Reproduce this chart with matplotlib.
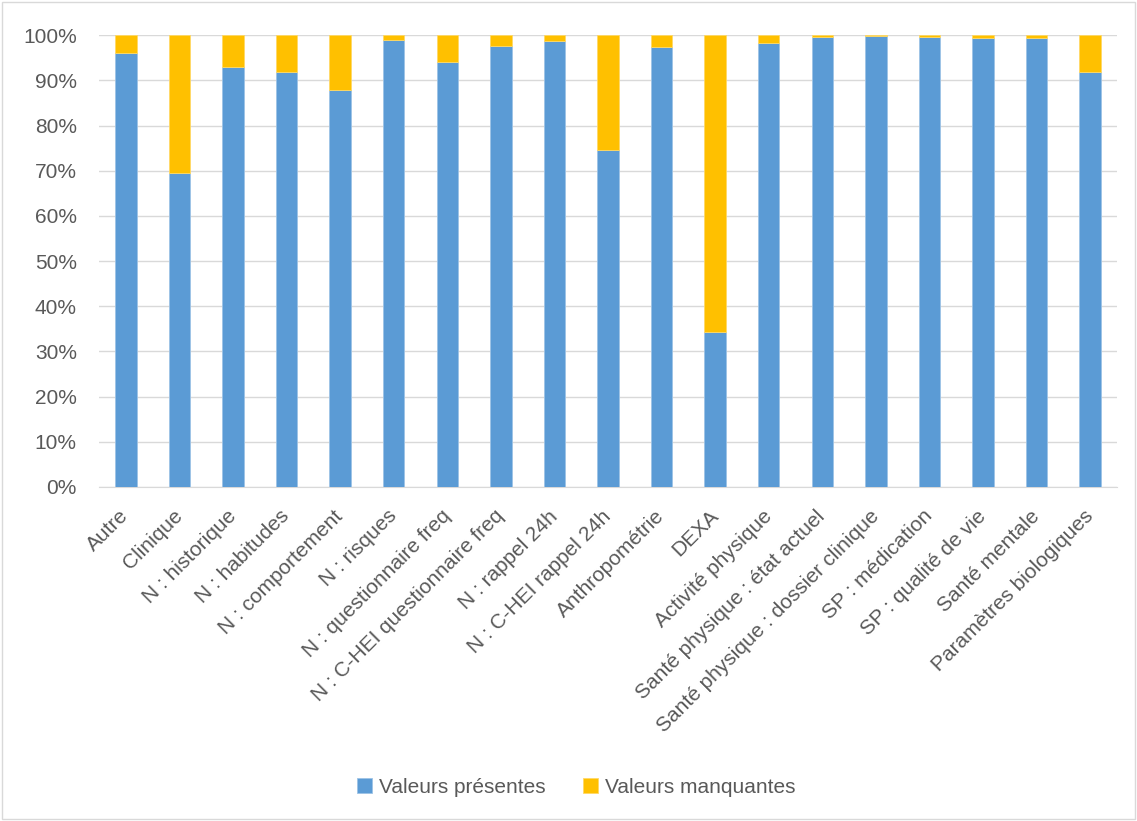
import matplotlib
matplotlib.use('Agg')
import matplotlib.pyplot as plt
from matplotlib.patches import Rectangle
from matplotlib.ticker import PercentFormatter

plt.rcParams['font.family'] = ['Liberation Sans', 'DejaVu Sans']

categories = ['Autre', 'Clinique', 'N : historique', 'N : habitudes', 'N : comportement',
              'N : risques', 'N : questionnaire freq', 'N : C-HEI questionnaire freq',
              'N : rappel 24h', 'N : C-HEI rappel 24h', 'Anthropométrie', 'DEXA',
              'Activité physique', 'Santé physique : état actuel',
              'Santé physique : dossier clinique', 'SP : médication', 'SP : qualité de vie',
              'Santé mentale', 'Paramètres biologiques']
presentes = [96.0, 69.5, 92.9, 91.8, 87.8, 98.9, 94.0, 97.6, 98.7, 74.6,
             97.3, 34.3, 98.2, 99.6, 99.9, 99.7, 99.4, 99.5, 91.9]
manquantes = [100 - v for v in presentes]

fig = plt.figure(figsize=(11.37, 8.21), dpi=100)
ax = fig.add_axes([0.0871, 0.407, 0.8953, 0.550])

x = range(len(categories))
ax.bar(x, presentes, width=0.4, color='#5B9BD5', edgecolor='#9DC3E6', linewidth=0.6,
       label='Valeurs présentes', zorder=3)
ax.bar(x, manquantes, width=0.4, bottom=presentes, color='#FFC000', edgecolor='#FFD966',
       linewidth=0.6, label='Valeurs manquantes', zorder=3)

ax.set_xlim(-0.5, len(categories) - 0.5)
ax.set_ylim(0, 100)
ax.set_yticks(range(0, 101, 10))
ax.yaxis.set_major_formatter(PercentFormatter(decimals=0))
ax.grid(axis='y', color='#D9D9D9', linewidth=1, zorder=0)
for s in ['top', 'right', 'left']:
    ax.spines[s].set_visible(False)
ax.spines['bottom'].set_color('#D9D9D9')
ax.tick_params(axis='both', length=0, colors='#595959', labelsize=15)
ax.tick_params(axis='y', pad=16)
ax.tick_params(axis='x', pad=19)
ax.set_xticks(list(x))
ax.set_xticklabels(categories, rotation=45, ha='right', va='center', rotation_mode='anchor')

fig.legend(loc='center', bbox_to_anchor=(0.507, 0.0414), ncol=2, frameon=False,
           fontsize=15, labelcolor='#595959', handlelength=0.7, handleheight=0.7,
           columnspacing=1.8, handletextpad=0.35)

fig.patches.append(Rectangle((0.002, 0.002), 0.996, 0.996, transform=fig.transFigure,
                             fill=False, edgecolor='#D9D9D9', linewidth=1))

fig.savefig('out.png', dpi=100)
